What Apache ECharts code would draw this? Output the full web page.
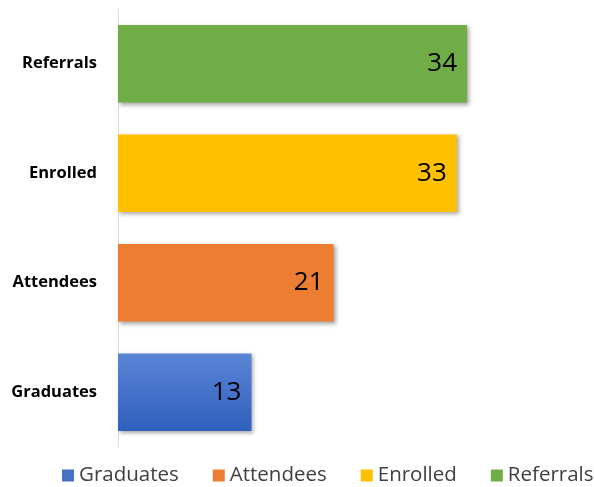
<!DOCTYPE html>
<html>
<head>
<meta charset="utf-8">
<script src="https://cdn.jsdelivr.net/npm/echarts@6/dist/echarts.min.js"></script>
<style>html,body{margin:0;padding:0;background:#fff}#c{width:594px;height:487px}</style>
</head>
<body>
<div id="c"></div>
<script>
var categories = ['Graduates', 'Attendees', 'Enrolled', 'Referrals'];
var values = [13, 21, 33, 34];
var colors = [
  {type:'linear',x:0,y:0,x2:0,y2:1,colorStops:[{offset:0,color:'#5B86D6'},{offset:1,color:'#2F5FBE'}]},
  '#ED7D31', '#FFC000', '#70AD47'
];
var legendColors = ['#4472C4', '#ED7D31', '#FFC000', '#70AD47'];

var chart = echarts.init(document.getElementById('c'));
var series = categories.map(function (name, i) {
  return {
    name: name,
    type: 'bar',
    stack: 'all',
    barWidth: '71%',
    data: categories.map(function (c, j) { return j === i ? values[j] : null; }),
    itemStyle: {
      color: colors[i],
      shadowBlur: 4,
      shadowOffsetX: 2,
      shadowOffsetY: 2,
      shadowColor: 'rgba(0,0,0,0.35)'
    },
    label: {
      show: true,
      position: 'insideRight',
      distance: 10,
      color: '#000',
      fontSize: 26,
      fontFamily: 'Open Sans, sans-serif'
    }
  };
});
chart.setOption({
  animation: false,
  color: legendColors,
  grid: {left: 118, right: 14, top: 9, bottom: 40, containLabel: false},
  legend: {
    top: 465,
    left: 62,
    width: 600,
    padding: 0,
    itemWidth: 12,
    itemHeight: 12,
    itemGap: 34,
    icon: 'rect',
    textStyle: {fontSize: 20.5, color: '#404040', fontFamily: 'Open Sans, sans-serif'},
    data: categories.map(function (c, i) { return {name: c, itemStyle: {color: legendColors[i], shadowBlur: 0}}; })
  },
  xAxis: {type: 'value', min: 0, max: 45, show: false},
  yAxis: {
    type: 'category',
    data: categories,
    axisLine: {show: true, lineStyle: {color: '#d9d9d9', width: 1}},
    axisTick: {show: false},
    axisLabel: {fontSize: 16.5, fontWeight: 'bold', color: '#000', margin: 21, fontFamily: 'Open Sans, sans-serif'}
  },
  series: series
});
</script>
</body>
</html>
